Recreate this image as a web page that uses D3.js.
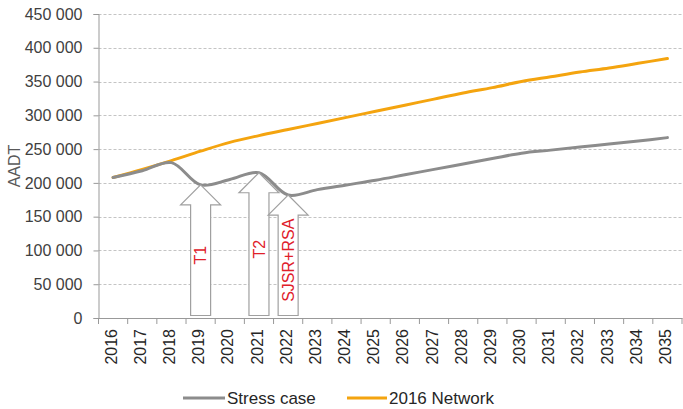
<!DOCTYPE html>
<html>
<head>
<meta charset="utf-8">
<script src="https://cdn.jsdelivr.net/npm/d3@7"></script>
<style>
  html, body { margin: 0; padding: 0; background: #fff; }
  svg { display: block; font-family: "Liberation Sans", Arial, sans-serif; }
</style>
</head>
<body>
<svg id="chart" width="683" height="409"></svg>
<script>
// ---- data ----
const years = ["2016","2017","2018","2019","2020","2021","2022","2023","2024","2025",
               "2026","2027","2028","2029","2030","2031","2032","2033","2034","2035"];
const stressCase = [208000, 218000, 230000, 197000, 205000, 215000, 182000, 190000, 197000, 204000,
                    212000, 220000, 228000, 236000, 244000, 248500, 253000, 257500, 262000, 267000];
const network2016 = [208000, 220000, 233000, 247000, 260000, 270000, 279000, 288000, 297000, 306000,
                     315000, 324000, 333000, 341000, 350000, 357000, 364000, 370000, 377000, 384000];
const yTicks = [0, 50000, 100000, 150000, 200000, 250000, 300000, 350000, 400000, 450000];
const seriesNames = ["Stress case", "2016 Network"];
const annotations = [
  { label: "T1", year: "2019" },
  { label: "T2", year: "2021" },
  { label: "SJSR+RSA", year: "2022" }
];
const yTitle = "AADT";

(function () {
const svg = d3.select("#chart");
const mLeft = 98.5, mRight = 682, mTop = 14, mBottom = 318;
const colors = { stress: "#8c8c8c", network: "#f4a40f", text: "#404040", red: "#e0202a" };

const x = d3.scaleBand().domain(years).range([mLeft, mRight]).padding(0);
const y = d3.scaleLinear().domain([0, 450000]).range([mBottom, mTop]);
const fmt = d3.formatLocale({ decimal: ".", thousands: "\u00a0", grouping: [3], currency: ["", ""] }).format(",d");
const cx = d => x(d) + x.bandwidth() / 2;

svg.append("g").selectAll("line").data(yTicks.filter(d => d > 0)).join("line")
  .attr("x1", mLeft).attr("x2", mRight)
  .attr("y1", d => Math.round(y(d)) + 0.5).attr("y2", d => Math.round(y(d)) + 0.5)
  .attr("stroke", "#c4c4c4").attr("stroke-width", 1).attr("stroke-dasharray", "3,2");

const yAxis = svg.append("g").attr("transform", `translate(${mLeft},0)`)
  .call(d3.axisLeft(y).tickValues(yTicks).tickFormat(fmt).tickSize(5).tickPadding(11));
yAxis.select(".domain").attr("stroke", "#999");
yAxis.selectAll(".tick line").attr("stroke", "#999");
yAxis.selectAll("text").style("font-size", "16px").attr("fill", colors.text)
  .style("font-family", "'Liberation Sans', Arial, sans-serif");

const xAxis = svg.append("g").attr("transform", `translate(0,${mBottom})`)
  .call(d3.axisBottom(x).tickSize(0).tickFormat(d => d));
xAxis.select(".domain").attr("stroke", "#999");
xAxis.selectAll(".tick text")
  .style("font-size", "16px").attr("fill", "#262626")
  .style("font-family", "'Liberation Sans', Arial, sans-serif")
  .attr("transform", "rotate(-90)")
  .attr("text-anchor", "end")
  .attr("dy", "0.35em")
  .attr("x", -11).attr("y", -2);
const bounds = years.map(d => x(d)).concat([mRight]);
svg.append("g").selectAll("line").data(bounds).join("line")
  .attr("x1", d => d).attr("x2", d => d)
  .attr("y1", mBottom).attr("y2", mBottom + 6)
  .attr("stroke", "#999");

svg.append("text")
  .attr("transform", `translate(20,166) rotate(-90)`)
  .attr("text-anchor", "middle")
  .attr("font-size", "16px").attr("fill", "#595959")
  .text(yTitle);

const line = d3.line().x((d, i) => cx(years[i])).y(d => y(d)).curve(d3.curveCatmullRom.alpha(0.5));
svg.append("path").datum(network2016).attr("d", line)
  .attr("fill", "none").attr("stroke", colors.network).attr("stroke-width", 3).attr("stroke-linecap", "round");
svg.append("path").datum(stressCase).attr("d", line)
  .attr("fill", "none").attr("stroke", colors.stress).attr("stroke-width", 3).attr("stroke-linecap", "round");

const headH = 20, headW = 20, shaftW = 10, arrowBottom = 315.5;
annotations.forEach(a => {
  const i = years.indexOf(a.year);
  const tx = cx(a.year), ty = y(stressCase[i]);
  const hb = ty + headH;
  const pts = [[tx, ty], [tx + headW, hb], [tx + shaftW, hb], [tx + shaftW, arrowBottom],
               [tx - shaftW, arrowBottom], [tx - shaftW, hb], [tx - headW, hb]];
  svg.append("path").attr("d", "M" + pts.map(p => p.join(",")).join("L") + "Z")
    .attr("fill", "#fff").attr("stroke", "#a0a0a0").attr("stroke-width", 1.2);
  const midY = (hb + arrowBottom) / 2 - 5;
  svg.append("text")
    .attr("transform", `translate(${tx},${midY}) rotate(-90)`)
    .attr("text-anchor", "middle").attr("dy", "0.35em")
    .attr("font-size", "16px").attr("fill", colors.red)
    .text(a.label);
});

const legend = [
  { name: seriesNames[0], color: colors.stress, x1: 183, x2: 225 },
  { name: seriesNames[1], color: colors.network, x1: 347, x2: 387 }
];
const ly = 398;
legend.forEach(l => {
  svg.append("line").attr("x1", l.x1).attr("x2", l.x2).attr("y1", ly).attr("y2", ly)
    .attr("stroke", l.color).attr("stroke-width", 3);
  svg.append("text").attr("x", l.x2 + 2).attr("y", ly).attr("dy", "0.35em")
    .attr("font-size", "17px").attr("fill", "#262626").text(l.name);
});
})();
</script>
</body>
</html>
